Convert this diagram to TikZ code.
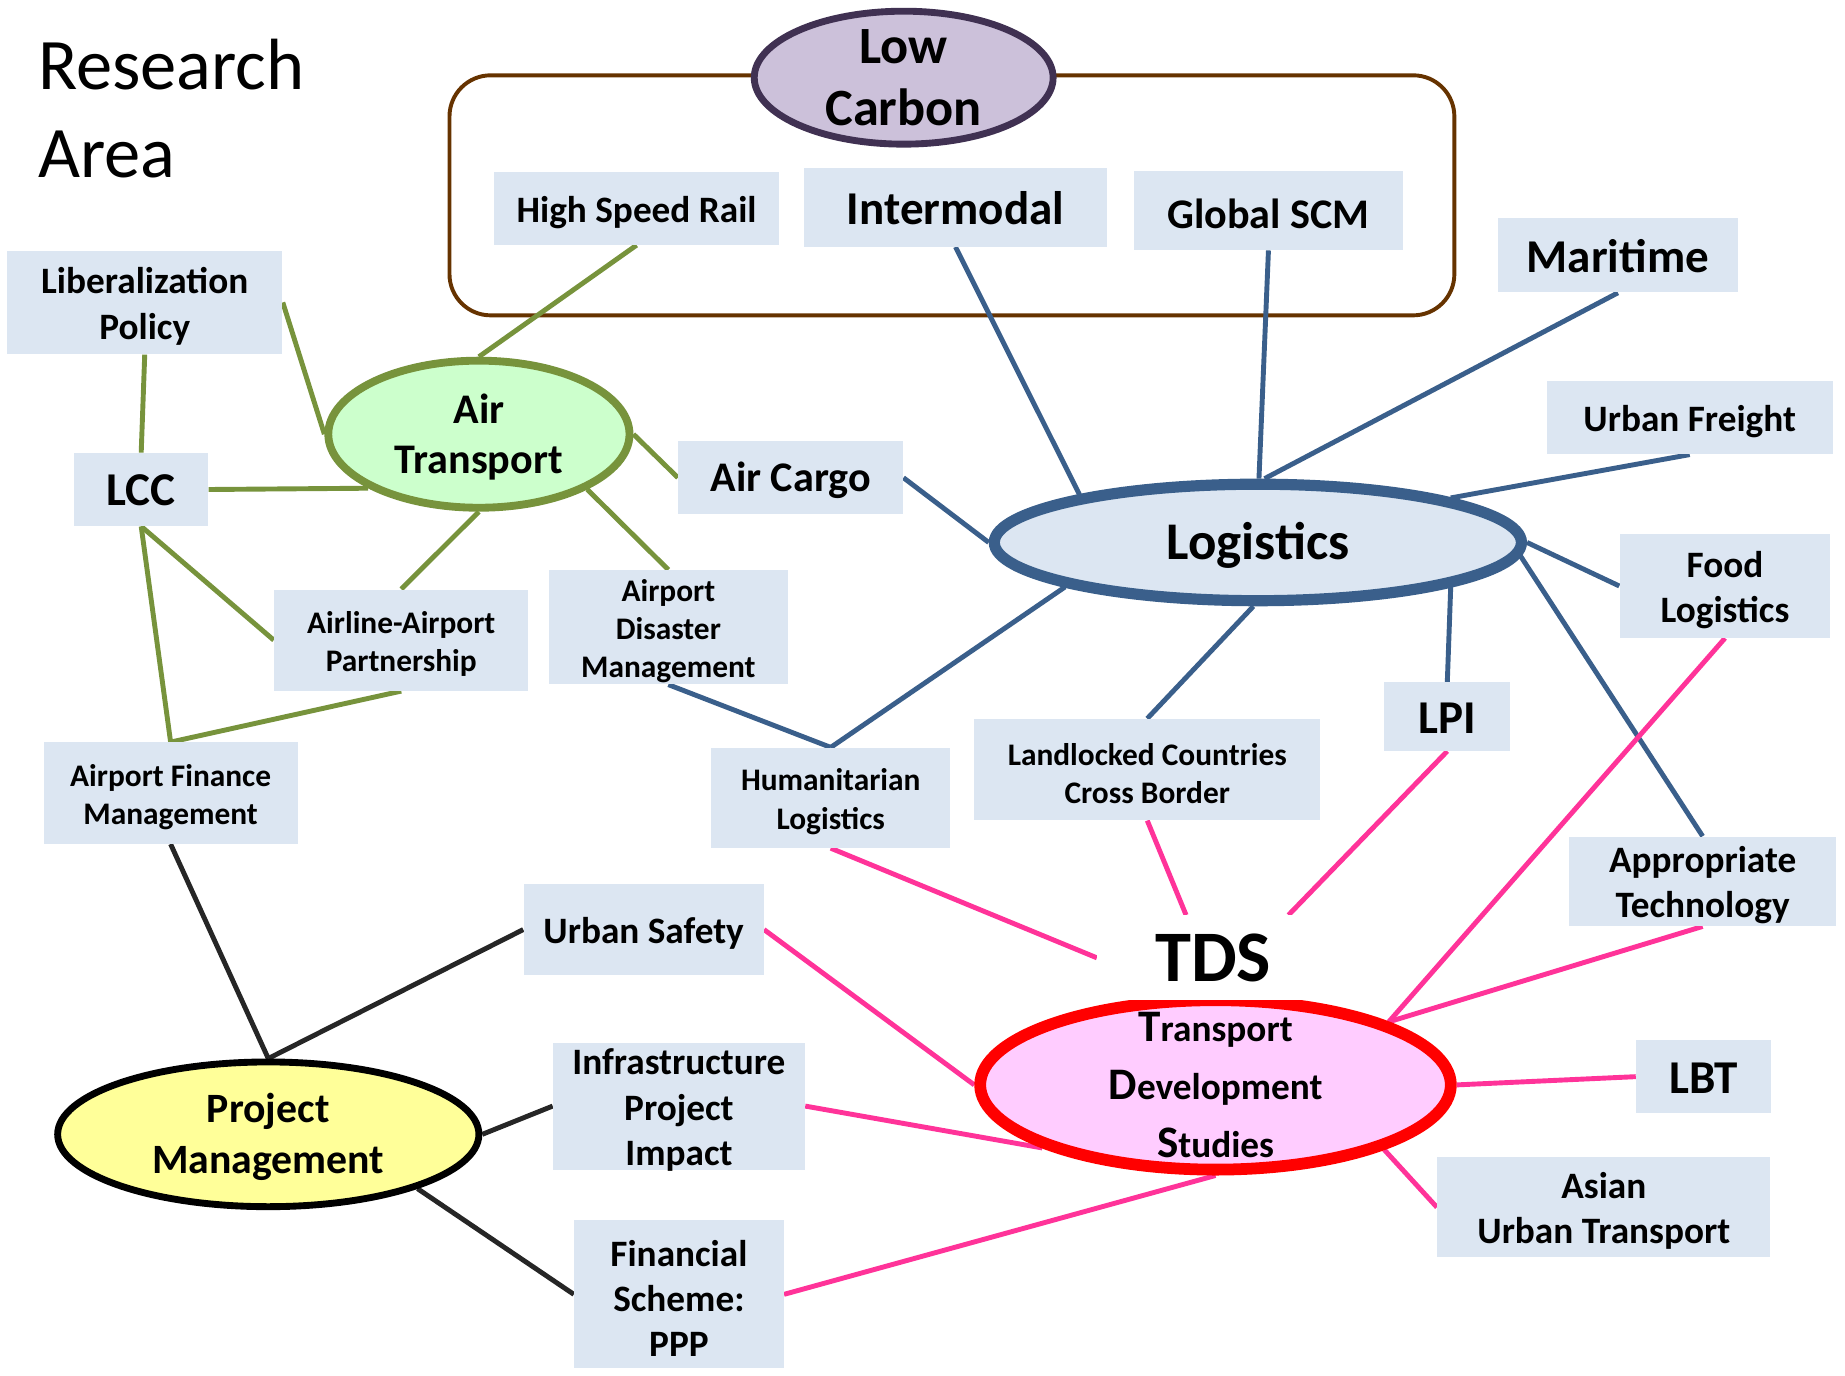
\documentclass[tikz,border=0pt]{standalone}
\usepackage{fontspec}
\setmainfont{Carlito}
\usetikzlibrary{shapes.geometric,backgrounds,calc}
\definecolor{boxc}{HTML}{DCE6F2}
\definecolor{greenc}{HTML}{77933C}
\definecolor{bluec}{HTML}{3A5F8B}
\definecolor{pinkc}{HTML}{FF3399}
\definecolor{darkc}{HTML}{262626}
\definecolor{brownc}{HTML}{663300}
\definecolor{lcfill}{HTML}{CCC1DA}
\definecolor{lcdraw}{HTML}{403152}
\definecolor{airfill}{HTML}{CCFFCC}
\definecolor{tdsfill}{HTML}{FFCCFF}
\definecolor{pmfill}{HTML}{FFFF99}
\begin{document}
\begin{tikzpicture}[x=0.6pt,y=-0.6pt,
  lbox/.style={fill=boxc, inner sep=0pt},
  bx/.style n args={2}{minimum width=#1*0.6pt, minimum height=#2*0.6pt},
  txt/.style n args={2}{label={[#1,align=center,inner sep=0pt]center:{#2}}},
  f16/.style={font=\bfseries\fontsize{16}{19.5}\selectfont, yshift=-2pt},
  f19/.style={font=\bfseries\fontsize{19}{23}\selectfont, yshift=-2pt},
  f22/.style={font=\bfseries\fontsize{21.5}{26}\selectfont, yshift=-1.5pt},
  f24/.style={font=\bfseries\fontsize{24}{29}\selectfont, yshift=-0.6pt},
  ell/.style={ellipse, inner sep=0pt},
  conn/.style={line width=2.5pt},
  gline/.style={conn, draw=greenc},
  bline/.style={conn, draw=bluec},
  pline/.style={conn, draw=pinkc},
  kline/.style={conn, draw=darkc}]
\useasboundingbox (0,0) rectangle (1568,1169);

% title
\node[anchor=north west, align=left, inner sep=0pt, font=\fontsize{37}{45}\selectfont] (title) at (32,33) {Research\\Area};

% boxes
\node[lbox,bx={242}{62},txt={f19}{High Speed Rail}] (hsr) at (541,177) {};
\node[lbox,bx={257}{67},txt={f24}{Intermodal}] (inter) at (812,176) {};
\node[lbox,bx={228}{67},txt={f22}{Global SCM}] (gscm) at (1078,179) {};
\node[lbox,bx={204}{63},txt={f24}{Maritime}] (mar) at (1375,217) {};
\node[lbox,bx={243}{62},txt={f19}{Urban Freight}] (ufr) at (1436,355) {};
\node[lbox,bx={179}{88},txt={f19}{Food\\Logistics}] (food) at (1466,498) {};
\node[lbox,bx={234}{88},txt={f19}{Liberalization\\Policy}] (lib) at (123,257) {};
\node[lbox,bx={114}{62},txt={f24}{LCC}] (lcc) at (120,416) {};
\node[lbox,bx={191}{62},txt={f22}{Air Cargo}] (acargo) at (672,406) {};
\node[lbox,bx={216}{86},txt={f16}{Airline-Airport\\Partnership}] (aap) at (341,544) {};
\node[lbox,bx={203}{97},txt={f16}{Airport\\Disaster\\Management}] (adm) at (568,533) {};
\node[lbox,bx={216}{86},txt={f16}{Airport Finance\\Management}] (afm) at (145,674) {};
\node[lbox,bx={203}{85},txt={f16}{Humanitarian\\Logistics}] (hum) at (706,678) {};
\node[lbox,bx={294}{86},txt={f16}{Landlocked Countries\\Cross Border}] (land) at (975,654) {};
\node[lbox,bx={107}{58},txt={f24}{LPI}] (lpi) at (1230,609) {};
\node[lbox,bx={227}{76},txt={f19}{Appropriate\\Technology}] (appt) at (1447,749) {};
\node[lbox,bx={204}{77},txt={f19}{Urban Safety}] (usaf) at (547,790) {};
\node[lbox,bx={214}{108},txt={f19}{Infrastructure\\Project\\Impact}] (infra) at (577,940) {};
\node[lbox,bx={178}{126},txt={f19}{Financial\\Scheme:\\PPP}] (fin) at (577,1100) {};
\node[lbox,bx={115}{62},txt={f24}{LBT}] (lbt) at (1448,915) {};
\node[lbox,bx={283}{85},txt={f19}{Asian\\Urban Transport}] (asian) at (1363,1026) {};

% ellipses
\node[ell, fill=lcfill, draw=lcdraw, line width=3.5pt, bx={254}{113},
  label={[align=center,font=\bfseries\fontsize{26.7}{32}\selectfont]center:{Low\\Carbon}}] (lowc) at (768,66) {};
\node[ell, fill=airfill, draw=greenc, line width=4pt, bx={256}{125},
  label={[align=center,font=\bfseries\fontsize{21.5}{25.5}\selectfont,yshift=-1.5pt]center:{Air\\Transport}}] (air) at (407,369) {};
\node[ell, fill=boxc, draw=bluec, line width=5.7pt, bx={448}{99},
  label={[font=\bfseries\fontsize{27}{32}\selectfont,yshift=-1.5pt]center:{Logistics}}] (logi) at (1069,461) {};
\node[ell, fill=tdsfill, draw=red, line width=6pt, bx={400}{144},
  label={[align=center,font=\bfseries\fontsize{19}{29.4}\selectfont]center:{{\fontsize{23}{29.4}\selectfont T}ransport\\{\fontsize{23}{29.4}\selectfont D}evelopment\\{\fontsize{23}{29.4}\selectfont S}tudies}}] (tds) at (1033,922) {};
\node[ell, fill=pmfill, draw=black, line width=3.5pt, bx={358}{123},
  label={[align=center,font=\bfseries\fontsize{21.3}{26}\selectfont,yshift=-1.5pt]center:{Project\\Management}}] (pm) at (228,964) {};
\node[fill=white, inner sep=0pt, bx={197}{72}, font=\bfseries\fontsize{37}{44}\selectfont] (tdsl) at (1031,814) {TDS};

\begin{scope}[on background layer]
\node[draw=brownc, line width=2pt, rounded corners=21pt, inner sep=0pt, bx={854}{204}] (frame) at (809,166) {};
% green
\draw[gline] (hsr.south) -- (air.90);
\draw[gline] (lib.east) -- (air.180);
\draw[gline] (lib.south) -- (lcc.north);
\draw[gline] (lcc.east) -- (air.206);
\draw[gline] (air.0) -- (acargo.west);
\draw[gline] (air.270) -- (aap.north);
\draw[gline] (air.333) -- (adm.north);
\draw[gline] (lcc.south) -- (aap.west);
\draw[gline] (lcc.south) -- (afm.north) -- (aap.south);
% blue
\draw[bline] (inter.south) -- (logi.165);
\draw[bline] (gscm.south) -- (logi.89);
\draw[bline] (mar.south) -- (logi.84);
\draw[bline] (ufr.south) -- (logi.13);
\draw[bline] (logi.0) -- (food.west);
\draw[bline] (logi.357) -- (appt.north);
\draw[bline] (logi.347) -- (lpi.north);
\draw[bline] (logi.266) -- (land.north);
\draw[bline] (logi.193) -- (hum.north);
\draw[bline] (adm.south) -- (hum.north);
\draw[bline] (acargo.east) -- (logi.180);
% pink
\draw[pline] (hum.south) -- (tdsl.west);
\draw[pline] (land.south) -- ($(tdsl.north)+(-23,0)$);
\draw[pline] (lpi.south) -- ($(tdsl.north)+(64,0)$);
\draw[pline] (food.south) -- (tds.20);
\draw[pline] (appt.south) -- (tds.20);
\draw[pline] (lbt.west) -- (tds.0);
\draw[pline] (asian.west) -- (tds.339);
\draw[pline] (usaf.east) -- (tds.180);
\draw[pline] (infra.east) -- (tds.200);
\draw[pline] (fin.east) -- (tds.270);
% black
\draw[kline] (afm.south) -- (pm.90);
\draw[kline] (usaf.west) -- (pm.90);
\draw[kline] (infra.west) -- (pm.0);
\draw[kline] (fin.west) -- (pm.340);
\end{scope}
\end{tikzpicture}
\end{document}
